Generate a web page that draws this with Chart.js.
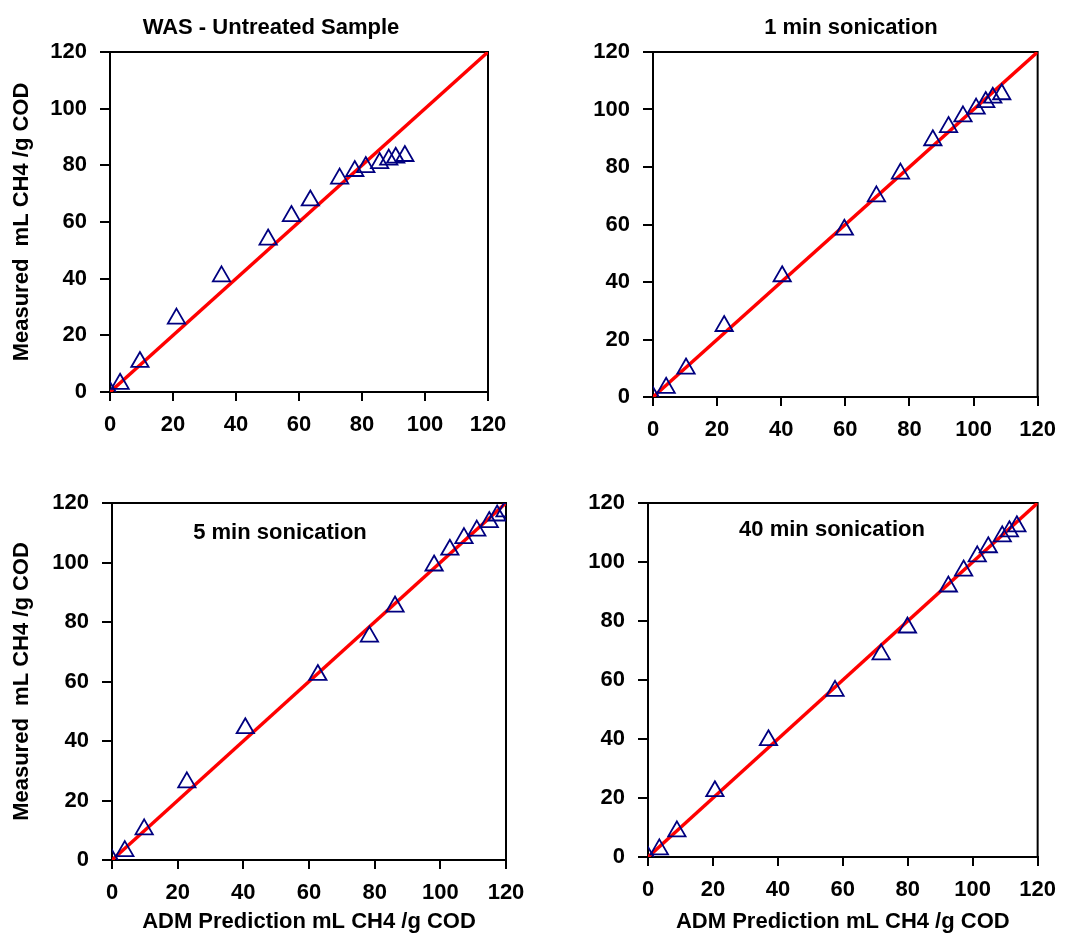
<!DOCTYPE html>
<html>
<head>
<meta charset="utf-8">
<script src="https://cdn.jsdelivr.net/npm/chart.js@4.4.1/dist/chart.umd.min.js"></script>
<style>
body { margin: 0; background: #fff; }
canvas { position: absolute; left: 0; top: 0; }
</style>
</head>
<body>
<canvas id="c1" width="1067" height="939"></canvas>
<canvas id="c2" width="1067" height="939"></canvas>
<canvas id="c3" width="1067" height="939"></canvas>
<canvas id="c4" width="1067" height="939"></canvas>
<script>
// ADM prediction (x) against measured (y), mL CH4 /g COD
var wasPred = [0, 3.2, 9.5, 21.1, 35.4, 50.2, 57.6, 63.6, 72.9, 77.7, 81.2, 85.6, 88.5, 90.7, 93.6];
var wasMeas = [0, 2.9, 10.6, 25.9, 40.8, 53.8, 62.1, 67.6, 75.3, 78.0, 79.4, 80.8, 82.0, 82.7, 83.3];
var min1Pred = [0, 4.1, 10.3, 22.2, 40.3, 59.7, 69.7, 77.2, 87.3, 92.2, 96.7, 100.8, 103.8, 106.0, 108.8];
var min1Meas = [0, 3.2, 9.9, 24.7, 42.0, 58.2, 69.8, 77.7, 89.3, 93.9, 97.6, 100.3, 102.6, 104.1, 105.3];
var min5Pred = [0, 3.9, 9.8, 22.8, 40.6, 62.7, 78.4, 86.2, 98.1, 102.9, 107.2, 111.1, 114.9, 117.3, 119.7];
var min5Meas = [0, 3.0, 10.3, 26.1, 44.3, 62.2, 75.1, 85.2, 99.0, 104.3, 108.2, 110.7, 113.6, 115.8, 117.2];
var min40Pred = [0, 3.5, 8.9, 20.6, 37.1, 57.6, 71.8, 79.9, 92.5, 97.2, 101.4, 104.8, 109.1, 111.3, 113.6];
var min40Meas = [0, 2.6, 8.7, 22.3, 39.6, 56.3, 68.7, 77.8, 91.7, 97.1, 101.9, 105.0, 108.7, 110.4, 112.1];
// 1:1 line
var lineX = [0, 120];
var lineY = [0, 120];
var titles = ["WAS - Untreated Sample", "1 min sonication", "5 min sonication", "40 min sonication"];
var yTitle = "Measured  mL CH4 /g COD";
var xTitle = "ADM Prediction mL CH4 /g COD";

var W = 1067, H = 939;
var FONT = '"Liberation Sans", Arial, sans-serif';
Chart.defaults.font.family = FONT;
Chart.defaults.color = '#000';

var panelTitle = {
    id: 'panelTitle',
    afterDraw: function (chart, args, o) {
        var ctx = chart.ctx;
        ctx.save();
        ctx.font = 'bold 22px ' + FONT;
        ctx.fillStyle = '#000';
        ctx.textAlign = 'center';
        ctx.textBaseline = 'middle';
        ctx.fillText(o.text, o.x, o.y);
        ctx.restore();
    }
};
var frame = {
    id: 'frame',
    beforeDatasetsDraw: function (chart) {
        var a = chart.chartArea;
        var ctx = chart.ctx;
        ctx.save();
        ctx.strokeStyle = '#000';
        ctx.lineWidth = 2;
        ctx.strokeRect(a.left, a.top, a.right - a.left, a.bottom - a.top);
        ctx.restore();
    }
};

function toPoints(xs, ys) {
    return xs.map(function (x, i) { return { x: x, y: ys[i] }; });
}

function makePanel(id, pred, meas, title, box) {
    return new Chart(document.getElementById(id), {
        type: 'scatter',
        data: {
            datasets: [{
                data: toPoints(pred, meas),
                pointStyle: 'triangle',
                pointRadius: 10,
                pointBorderWidth: 1.8,
                pointBorderColor: '#000080',
                pointBackgroundColor: 'rgba(0,0,0,0)'
            }, {
                data: toPoints(lineX, lineY),
                showLine: true,
                borderColor: '#ff0000',
                borderWidth: 3.5,
                pointRadius: 0
            }]
        },
        options: {
            responsive: false,
            animation: false,
            events: [],
            layout: {
                padding: {
                    left: box.left - box.yw,
                    top: box.top,
                    right: W - box.right,
                    bottom: H - box.bottom - box.xh
                }
            },
            plugins: {
                legend: { display: false },
                tooltip: { enabled: false },
                panelTitle: { text: title, x: box.tx, y: box.ty }
            },
            scales: {
                x: {
                    min: 0, max: 120,
                    afterFit: function (s) { s.height = box.xh; },
                    ticks: { stepSize: 20, padding: 11, font: { size: 22, weight: 'bold' }, color: '#000' },
                    grid: { drawOnChartArea: false, tickLength: 9, color: '#000', lineWidth: 2 },
                    border: { color: '#000', width: 2 },
                    title: { display: box.xTitle, text: xTitle, font: { size: 22, weight: 'bold' }, color: '#000', padding: { top: 0, bottom: 4 } }
                },
                y: {
                    min: 0, max: 120,
                    afterFit: function (s) { s.width = box.yw; },
                    ticks: { stepSize: 20, padding: 13, font: { size: 22, weight: 'bold' }, color: '#000' },
                    grid: { drawOnChartArea: false, tickLength: 10, color: '#000', lineWidth: 2 },
                    border: { color: '#000', width: 2 },
                    title: { display: box.yTitle, text: yTitle, font: { size: 22, weight: 'bold' }, color: '#000', padding: { top: 9, bottom: 0 } }
                }
            }
        },
        plugins: [frame, panelTitle]
    });
}

makePanel('c1', wasPred, wasMeas, titles[0],
    { left: 110, top: 52, right: 488, bottom: 392, yw: 110, xh: 60, tx: 271, ty: 28, yTitle: true, xTitle: false });
makePanel('c2', min1Pred, min1Meas, titles[1],
    { left: 653, top: 52, right: 1039, bottom: 397, yw: 110, xh: 60, tx: 851, ty: 28, yTitle: false, xTitle: false });
makePanel('c3', min5Pred, min5Meas, titles[2],
    { left: 112, top: 503, right: 506, bottom: 860, yw: 112, xh: 79, tx: 280, ty: 533, yTitle: true, xTitle: true });
makePanel('c4', min40Pred, min40Meas, titles[3],
    { left: 648, top: 503, right: 1046, bottom: 857, yw: 110, xh: 82, tx: 832, ty: 530, yTitle: false, xTitle: true });
</script>
</body>
</html>
